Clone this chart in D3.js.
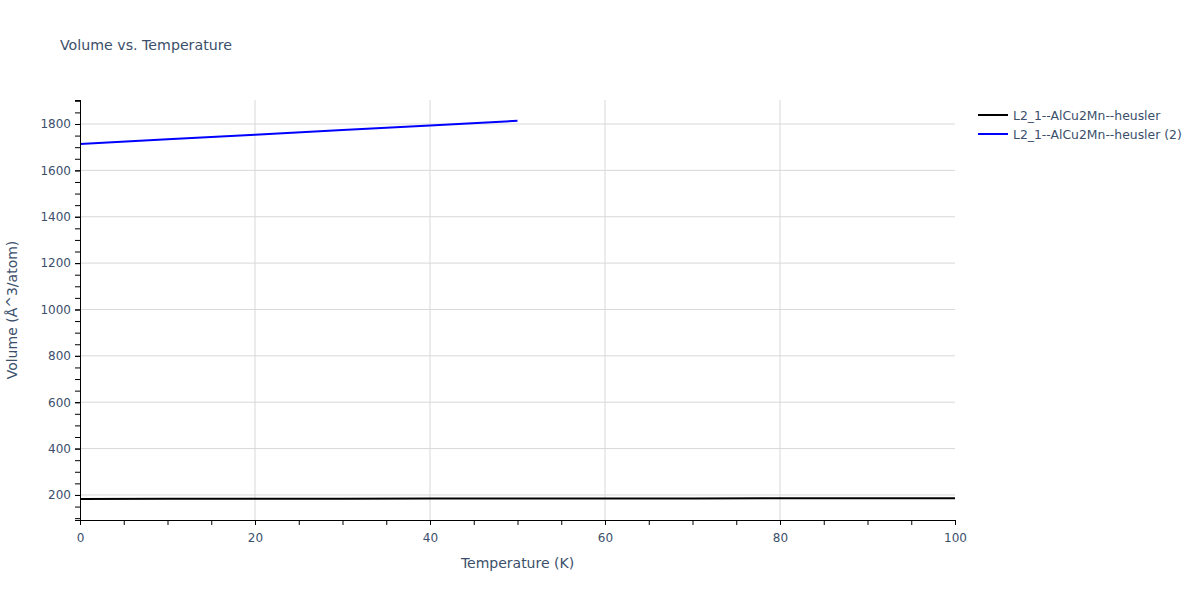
<!DOCTYPE html>
<html>
<head>
<meta charset="utf-8">
<script src="https://cdn.jsdelivr.net/npm/d3@7"></script>
<style>
  body { margin: 0; background: #fff; }
  text { font-family: "DejaVu Sans", Verdana, sans-serif; }
</style>
</head>
<body>
<div id="chart"></div>
<script>
// data
var tempA = [0, 10, 20, 30, 40, 50, 60, 70, 80, 90, 100];
var volA = [183, 183.3, 183.6, 183.9, 184.2, 184.5, 184.8, 185.1, 185.4, 185.7, 186];
var tempB = [0, 10, 20, 30, 40, 50];
var volB = [1714, 1734, 1754, 1774, 1794, 1814];
var seriesNames = ["L2_1--AlCu2Mn--heusler", "L2_1--AlCu2Mn--heusler (2)"];
var seriesColors = ["#000000", "#0000ff"];
var xTicks = [0, 20, 40, 60, 80, 100];
var yTicks = [200, 400, 600, 800, 1000, 1200, 1400, 1600, 1800];

var svgWidth = 1200, svgHeight = 600;
var margin = {top: 100, right: 245, bottom: 80, left: 80};
var chartWidth = svgWidth - margin.left - margin.right;
var chartHeight = svgHeight - margin.top - margin.bottom;

var svg = d3.select("#chart").append("svg")
  .attr("width", svgWidth)
  .attr("height", svgHeight);

var chartGroup = svg.append("g")
  .attr("transform", `translate(${margin.left}, ${margin.top})`);

var xScale = d3.scaleLinear().domain([0, 100]).range([0, chartWidth]);
var yScale = d3.scaleLinear().domain([92, 1903.5]).range([chartHeight, 0]);

// grid
chartGroup.append("g").selectAll("line")
  .data(xTicks.filter(d => d > 0 && d < 100))
  .enter().append("line")
  .attr("x1", d => xScale(d)).attr("x2", d => xScale(d))
  .attr("y1", 0).attr("y2", chartHeight)
  .attr("stroke", "#d8d8d8").attr("stroke-width", 1);
chartGroup.append("g").selectAll("line")
  .data(yTicks)
  .enter().append("line")
  .attr("x1", 0).attr("x2", chartWidth)
  .attr("y1", d => yScale(d)).attr("y2", d => yScale(d))
  .attr("stroke", "#d8d8d8").attr("stroke-width", 1);

// lines
var line = d3.line().x(d => xScale(d[0])).y(d => yScale(d[1]));
var seriesData = [d3.zip(tempA, volA), d3.zip(tempB, volB)];
chartGroup.selectAll("path.series")
  .data(seriesData)
  .enter().append("path")
  .attr("class", "series")
  .attr("d", line)
  .attr("fill", "none")
  .attr("stroke", (d, i) => seriesColors[i])
  .attr("stroke-width", 2);

// axes
var minorX = d3.range(0, 101, 5);
var minorY = d3.range(100, 1901, 50);
var xAxis = d3.axisBottom(xScale).tickValues(xTicks).tickSize(5).tickPadding(8).tickFormat(d3.format("d"));
var xMinor = d3.axisBottom(xScale).tickValues(minorX).tickSize(5).tickFormat("");
var yAxis = d3.axisLeft(yScale).tickValues(yTicks).tickSize(5).tickPadding(4).tickFormat(d3.format("d"));
var yMinor = d3.axisLeft(yScale).tickValues(minorY).tickSize(5).tickFormat("");

function styleAxis(g) {
  g.select(".domain").attr("stroke", "#000").attr("stroke-width", 1);
  g.selectAll(".tick line").attr("stroke", "#000");
  g.selectAll(".tick text").attr("fill", "#3b4f6b").style("font-size", "12px");
}

chartGroup.append("g").attr("transform", `translate(0, ${chartHeight})`).call(xMinor).call(styleAxis);
chartGroup.append("g").attr("transform", `translate(0, ${chartHeight})`).call(xAxis).call(styleAxis);
chartGroup.append("g").call(yMinor).call(styleAxis);
chartGroup.append("g").call(yAxis).call(styleAxis);

// titles
svg.append("text")
  .attr("x", 60).attr("y", 50)
  .attr("fill", "#3b4f6b").style("font-size", "14.2px")
  .text("Volume vs. Temperature");

svg.append("text")
  .attr("x", margin.left + chartWidth / 2).attr("y", 568)
  .attr("text-anchor", "middle")
  .attr("fill", "#3b4f6b").style("font-size", "14px")
  .text("Temperature (K)");

svg.append("text")
  .attr("transform", `translate(17, ${margin.top + chartHeight / 2}) rotate(-90)`)
  .attr("text-anchor", "middle")
  .attr("fill", "#3b4f6b").style("font-size", "14px")
  .text("Volume (Å^3/atom)");

// legend
var legend = svg.append("g").attr("transform", "translate(978, 115)");
var items = legend.selectAll("g")
  .data(seriesNames)
  .enter().append("g")
  .attr("transform", (d, i) => `translate(0, ${i * 19})`);
items.append("line")
  .attr("x1", 0).attr("x2", 30)
  .attr("stroke", (d, i) => seriesColors[i])
  .attr("stroke-width", 2);
items.append("text")
  .attr("x", 35).attr("y", 4.5)
  .attr("fill", "#3b4f6b").style("font-size", "12.4px")
  .text(d => d);
</script>
</body>
</html>
